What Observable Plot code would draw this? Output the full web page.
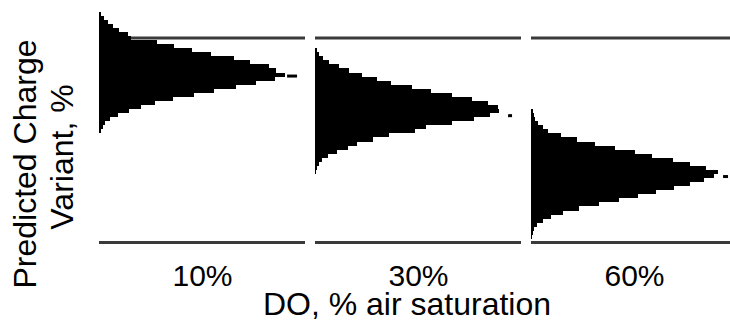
<!DOCTYPE html>
<html>
<head>
<meta charset="utf-8">
<script src="https://cdn.jsdelivr.net/npm/d3@7"></script>
<script src="https://cdn.jsdelivr.net/npm/@observablehq/plot@0.6"></script>
<style>
  html, body { margin: 0; padding: 0; background: white; overflow: hidden; }
  #chart svg { display: block; }
</style>
</head>
<body>
<div id="chart"></div>
<script>
// DO levels (facets)
const doLevels = ["10%", "30%", "60%"];
// histogram bins of predicted charge variant (%)
const binWidth = 0.4;
const binStart = [20.6, 16.6, 10.2];
const counts10 = [2, 4, 6, 11, 19, 30, 42, 56, 74, 95, 116, 138, 158, 177, 187, 178, 171, 152, 136, 113, 93, 75, 58, 32, 29, 20, 14, 9, 5, 2];
const counts30 = [1, 2, 4, 7, 13, 22, 33, 42, 58, 74, 100, 112, 138, 160, 176, 185, 184, 174, 158, 138, 117, 97, 76, 62, 47, 34, 24, 14, 8, 4, 2];
const counts60 = [1, 2, 3, 6, 12, 20, 32, 48, 68, 88, 108, 126, 144, 160, 174, 184, 188, 176, 160, 143, 122, 105, 84, 64, 46, 30, 17, 12, 7, 4, 3, 2];
// limit lines
const specLimits = [9.9, 30.05];
// small separate marks beyond each histogram tip
const markerY = [26.3, 22.4, 16.4];
const markerLo = [189, 194, 193];
const markerHi = [199, 198, 198];

const allCounts = [counts10, counts30, counts60];
const rows = doLevels.flatMap((lvl, p) =>
  allCounts[p].map((c, i) => ({
    do: lvl,
    lo: binStart[p] + i * binWidth,
    hi: binStart[p] + (i + 1) * binWidth,
    count: c
  }))
);
const markers = doLevels.map((lvl, p) => ({do: lvl, y: markerY[p], lo: markerLo[p], hi: markerHi[p]}));

const chart = Plot.plot({
  width: 730,
  height: 326,
  marginLeft: 98,
  marginRight: 0,
  marginTop: 0,
  marginBottom: 70,
  style: {fontFamily: "'Liberation Sans', Arial, sans-serif", background: "white", color: "black"},
  fx: {domain: doLevels, range: [98, 739], paddingInner: 0.046, paddingOuter: 0},
  x: {domain: [0, 207], axis: null},
  y: {domain: [10, 30], range: [241, 38], axis: null},
  marks: [
    Plot.ruleY(specLimits, {stroke: "#3a3a3a", strokeWidth: 3}),
    Plot.rectX(rows, {fx: "do", x: "count", y1: "lo", y2: "hi", fill: "black", shapeRendering: "crispEdges"}),
    Plot.ruleY(markers, {fx: "do", y: "y", x1: "lo", x2: "hi", stroke: "black", strokeWidth: 3}),
    Plot.axisFx({anchor: "bottom", tickSize: 0, tickPadding: 8, fontSize: 30, label: null})
  ]
});

const svg = d3.select(chart);
svg.append("text")
  .attr("x", 407).attr("y", 315)
  .attr("text-anchor", "middle")
  .attr("font-size", 32)
  .attr("fill", "black")
  .text("DO, % air saturation");
svg.append("text")
  .attr("transform", "translate(36,164) rotate(-90)")
  .attr("text-anchor", "middle")
  .attr("font-size", 32)
  .attr("fill", "black")
  .text("Predicted Charge");
svg.append("text")
  .attr("transform", "translate(73,157) rotate(-90)")
  .attr("text-anchor", "middle")
  .attr("font-size", 32)
  .attr("fill", "black")
  .text("Variant, %");

document.getElementById("chart").appendChild(chart);
</script>
</body>
</html>
